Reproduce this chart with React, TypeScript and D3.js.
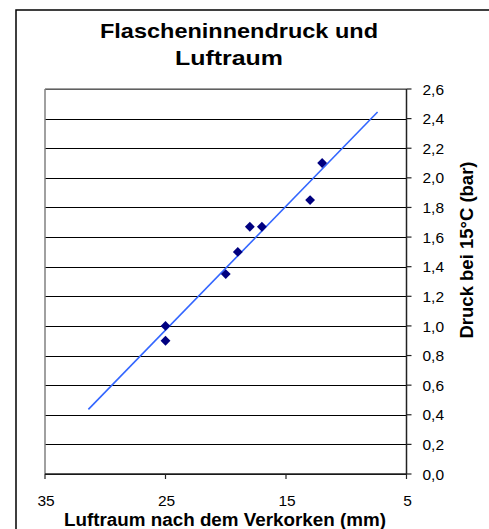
import React from "react";
import * as d3 from "d3";

const airSpace = [12, 13, 18, 17, 19, 20, 25, 25];
const pressure = [2.1, 1.85, 1.67, 1.67, 1.5, 1.35, 1.0, 0.9];
const xTicks = [35, 25, 15, 5];
const yTicks = [0, 0.2, 0.4, 0.6, 0.8, 1.0, 1.2, 1.4, 1.6, 1.8, 2.0, 2.2, 2.4, 2.6];
const trendRange = [31.4, 7.4];
const titleLines = ["Flascheninnendruck und", "Luftraum"];
const xTitle = "Luftraum nach dem Verkorken (mm)";
const yTitle = "Druck bei 15°C (bar)";

const W = 489;
const H = 529;
const plot = { left: 45, right: 406.5, top: 89, bottom: 474 };
const FONT = "Liberation Sans, Arial, Helvetica, sans-serif";

export default function App() {
  const x = d3.scaleLinear().domain([35, 5]).range([plot.left, plot.right]);
  const y = d3.scaleLinear().domain([0, 2.6]).range([plot.bottom, plot.top]);

  const mx = d3.mean(airSpace)!;
  const my = d3.mean(pressure)!;
  let sxy = 0;
  let sxx = 0;
  airSpace.forEach((v, i) => {
    sxy += (v - mx) * (pressure[i] - my);
    sxx += (v - mx) * (v - mx);
  });
  const slope = sxy / sxx;
  const icpt = my - slope * mx;
  const line = d3
    .line<number>()
    .x((d) => x(d))
    .y((d) => y(icpt + slope * d));

  const fmt = (v: number) => v.toFixed(1).replace(".", ",");
  const diamond = d3.symbol().type(d3.symbolDiamond2).size(62)();

  return (
    <svg
      width={W}
      height={H}
      style={{ position: "absolute", left: 0, top: 0, background: "#fff" }}
      fontFamily={FONT}
    >
      <rect x={16} y={10} width={W + 20} height={H + 20} fill="#fff" stroke="#000" strokeWidth={1.5} />

      {titleLines.map((t, i) => (
        <text
          key={t}
          x={i === 0 ? 239 : 229}
          y={37.5 + i * 27.5}
          textAnchor="middle"
          fontSize={20.5}
          fontWeight="bold"
          textLength={i === 0 ? 278 : 108}
          lengthAdjust="spacingAndGlyphs"
        >
          {t}
        </text>
      ))}

      {/* gridlines */}
      {yTicks.map((t) => (
        <line
          key={"g" + t}
          x1={plot.left}
          x2={plot.right}
          y1={Math.round(y(t)) + 0.5}
          y2={Math.round(y(t)) + 0.5}
          stroke="#000"
          strokeWidth={1}
        />
      ))}
      {/* plot border */}
      <line x1={plot.left} x2={plot.left} y1={plot.top} y2={plot.bottom} stroke="#808080" strokeWidth={1.5} />
      <line x1={plot.left} x2={plot.right} y1={plot.top} y2={plot.top} stroke="#808080" strokeWidth={1.5} />
      {/* axes */}
      <line x1={plot.left} x2={plot.right} y1={plot.bottom} y2={plot.bottom} stroke="#222" strokeWidth={1.5} />
      <line x1={plot.right} x2={plot.right} y1={plot.top} y2={plot.bottom} stroke="#222" strokeWidth={1.5} />

      {yTicks.map((t) => (
        <g key={"y" + t}>
          <line x1={plot.right} x2={plot.right + 5} y1={y(t)} y2={y(t)} stroke="#222" strokeWidth={1.2} />
          <text x={plot.right + 16} y={y(t)} dy="0.36em" fontSize={15.5}>
            {fmt(t)}
          </text>
        </g>
      ))}
      {xTicks.map((t) => (
        <g key={"x" + t}>
          <line x1={x(t)} x2={x(t)} y1={plot.bottom} y2={plot.bottom + 5} stroke="#222" strokeWidth={1.2} />
          <text x={x(t) + 1} y={505.5} textAnchor="middle" fontSize={15.5}>
            {t}
          </text>
        </g>
      ))}

      <path d={line(trendRange) || ""} fill="none" stroke="#3366ff" strokeWidth={1.6} />

      {airSpace.map((v, i) => (
        <path key={"p" + i} d={diamond || ""} transform={`translate(${x(v)},${y(pressure[i])})`} fill="#000080" />
      ))}

      <text x={225} y={525.5} textAnchor="middle" fontSize={18} fontWeight="bold" textLength={322} lengthAdjust="spacingAndGlyphs">
        {xTitle}
      </text>
      <text
        transform="translate(473,250) rotate(-90)"
        textAnchor="middle"
        fontSize={18.5}
        fontWeight="bold"
      >
        {yTitle}
      </text>
    </svg>
  );
}
